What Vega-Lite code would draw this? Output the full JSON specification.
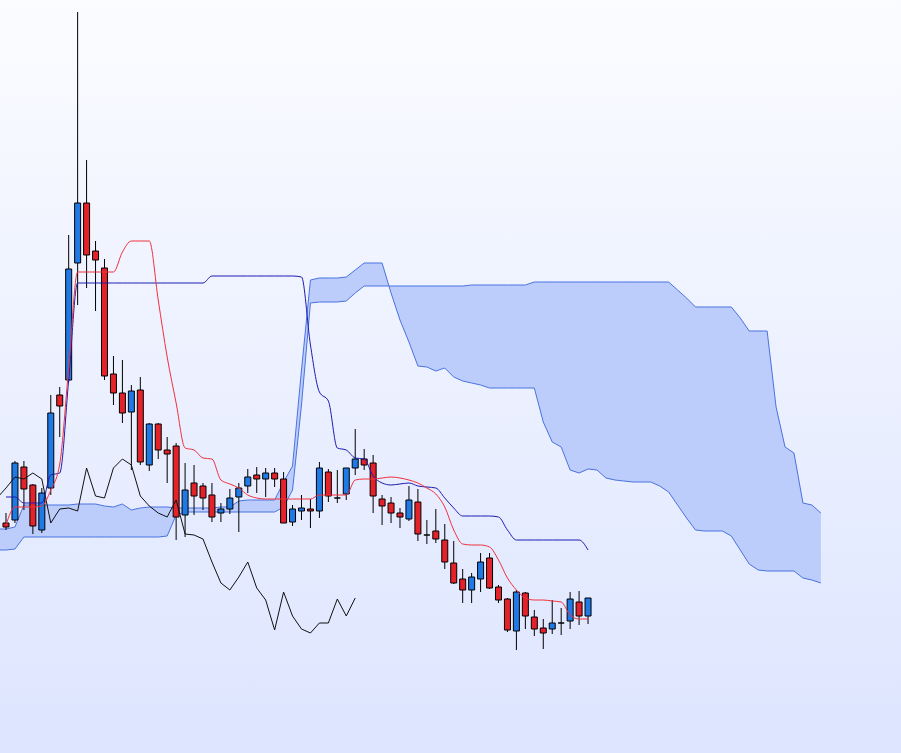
{
  "$schema": "https://vega.github.io/schema/vega-lite/v6.json",
  "width": 901,
  "height": 753,
  "padding": 0,
  "autosize": {"type": "fit", "contains": "padding"},
  "config": {"view": {"stroke": null}},
  "datasets": {
    "candles": [
      {"i":0,"o":230,"h":240,"l":223,"c":226},
      {"i":1,"o":233,"h":292,"l":230,"c":290},
      {"i":2,"o":286,"h":292,"l":243,"c":264},
      {"i":3,"o":268,"h":269,"l":219,"c":227},
      {"i":4,"o":223,"h":265,"l":220,"c":260},
      {"i":5,"o":265,"h":358,"l":258,"c":340},
      {"i":6,"o":358,"h":366,"l":316,"c":347},
      {"i":7,"o":373,"h":518,"l":371,"c":484},
      {"i":8,"o":490,"h":741,"l":448,"c":550},
      {"i":9,"o":550,"h":593,"l":465,"c":498},
      {"i":10,"o":502,"h":512,"l":442,"c":493},
      {"i":11,"o":485,"h":494,"l":373,"c":377},
      {"i":12,"o":379,"h":397,"l":348,"c":360},
      {"i":13,"o":360,"h":393,"l":330,"c":340},
      {"i":14,"o":341,"h":368,"l":283,"c":362},
      {"i":15,"o":363,"h":376,"l":288,"c":291},
      {"i":16,"o":288,"h":330,"l":282,"c":329},
      {"i":17,"o":329,"h":330,"l":294,"c":303},
      {"i":18,"o":303,"h":316,"l":270,"c":299},
      {"i":19,"o":307,"h":310,"l":213,"c":236},
      {"i":20,"o":238,"h":290,"l":216,"c":263},
      {"i":21,"o":270,"h":288,"l":238,"c":257},
      {"i":22,"o":267,"h":270,"l":243,"c":255},
      {"i":23,"o":258,"h":270,"l":231,"c":236},
      {"i":24,"o":240,"h":250,"l":231,"c":244},
      {"i":25,"o":244,"h":264,"l":239,"c":255},
      {"i":26,"o":256,"h":270,"l":221,"c":265},
      {"i":27,"o":267,"h":284,"l":260,"c":276},
      {"i":28,"o":278,"h":286,"l":260,"c":274},
      {"i":29,"o":274,"h":285,"l":256,"c":280},
      {"i":30,"o":280,"h":285,"l":266,"c":274},
      {"i":31,"o":274,"h":281,"l":230,"c":230},
      {"i":32,"o":231,"h":248,"l":227,"c":244},
      {"i":33,"o":242,"h":258,"l":233,"c":245},
      {"i":34,"o":244,"h":254,"l":225,"c":242},
      {"i":35,"o":242,"h":291,"l":235,"c":285},
      {"i":36,"o":281,"h":284,"l":251,"c":257},
      {"i":37,"o":255,"h":283,"l":250,"c":255},
      {"i":38,"o":259,"h":285,"l":253,"c":285},
      {"i":39,"o":285,"h":324,"l":278,"c":294},
      {"i":40,"o":294,"h":304,"l":283,"c":288},
      {"i":41,"o":290,"h":298,"l":240,"c":257},
      {"i":42,"o":254,"h":258,"l":228,"c":247},
      {"i":43,"o":250,"h":256,"l":230,"c":240},
      {"i":44,"o":240,"h":245,"l":225,"c":236},
      {"i":45,"o":234,"h":267,"l":232,"c":253},
      {"i":46,"o":251,"h":264,"l":212,"c":219},
      {"i":47,"o":218,"h":233,"l":209,"c":218},
      {"i":48,"o":222,"h":244,"l":210,"c":214},
      {"i":49,"o":213,"h":229,"l":184,"c":191},
      {"i":50,"o":190,"h":212,"l":169,"c":170},
      {"i":51,"o":174,"h":184,"l":150,"c":163},
      {"i":52,"o":163,"h":180,"l":150,"c":176},
      {"i":53,"o":174,"h":200,"l":161,"c":191},
      {"i":54,"o":195,"h":200,"l":164,"c":165},
      {"i":55,"o":166,"h":168,"l":150,"c":153},
      {"i":56,"o":154,"h":155,"l":121,"c":123},
      {"i":57,"o":122,"h":163,"l":103,"c":161},
      {"i":58,"o":160,"h":161,"l":124,"c":137},
      {"i":59,"o":136,"h":143,"l":117,"c":124},
      {"i":60,"o":125,"h":134,"l":104,"c":120},
      {"i":61,"o":124,"h":153,"l":119,"c":130},
      {"i":62,"o":130,"h":145,"l":118,"c":130},
      {"i":63,"o":132,"h":161,"l":124,"c":154},
      {"i":64,"o":151,"h":162,"l":128,"c":137},
      {"i":65,"o":137,"h":155,"l":129,"c":155}
    ],
    "ind": [
      {"i":0,"tenkan":228,"kijun":256},
      {"i":1,"tenkan":246,"kijun":256},
      {"i":2,"tenkan":246,"kijun":250},
      {"i":3,"tenkan":246,"kijun":250},
      {"i":4,"tenkan":247,"kijun":250},
      {"i":5,"tenkan":263,"kijun":278},
      {"i":6,"tenkan":289,"kijun":280},
      {"i":7,"tenkan":385,"kijun":373},
      {"i":8,"tenkan":481,"kijun":470},
      {"i":9,"tenkan":481,"kijun":470},
      {"i":10,"tenkan":481,"kijun":470},
      {"i":11,"tenkan":481,"kijun":470},
      {"i":12,"tenkan":481,"kijun":470},
      {"i":13,"tenkan":501,"kijun":470},
      {"i":14,"tenkan":512,"kijun":470},
      {"i":15,"tenkan":512,"kijun":470},
      {"i":16,"tenkan":512,"kijun":470},
      {"i":17,"tenkan":453,"kijun":470},
      {"i":18,"tenkan":396,"kijun":470},
      {"i":19,"tenkan":350,"kijun":470},
      {"i":20,"tenkan":305,"kijun":470},
      {"i":21,"tenkan":303,"kijun":470},
      {"i":22,"tenkan":295,"kijun":470},
      {"i":23,"tenkan":294,"kijun":477},
      {"i":24,"tenkan":273,"kijun":477},
      {"i":25,"tenkan":269,"kijun":477},
      {"i":26,"tenkan":265,"kijun":477},
      {"i":27,"tenkan":258,"kijun":477},
      {"i":28,"tenkan":255,"kijun":477},
      {"i":29,"tenkan":254,"kijun":477},
      {"i":30,"tenkan":254,"kijun":477},
      {"i":31,"tenkan":254,"kijun":477},
      {"i":32,"tenkan":254,"kijun":477},
      {"i":33,"tenkan":254,"kijun":476},
      {"i":34,"tenkan":254,"kijun":408},
      {"i":35,"tenkan":258,"kijun":361},
      {"i":36,"tenkan":258,"kijun":352},
      {"i":37,"tenkan":258,"kijun":305},
      {"i":38,"tenkan":258,"kijun":303},
      {"i":39,"tenkan":273,"kijun":295},
      {"i":40,"tenkan":274,"kijun":294},
      {"i":41,"tenkan":274,"kijun":277},
      {"i":42,"tenkan":275,"kijun":270},
      {"i":43,"tenkan":276,"kijun":268},
      {"i":44,"tenkan":275,"kijun":269},
      {"i":45,"tenkan":273,"kijun":270},
      {"i":46,"tenkan":270,"kijun":267},
      {"i":47,"tenkan":265,"kijun":266},
      {"i":48,"tenkan":259,"kijun":265},
      {"i":49,"tenkan":246,"kijun":255},
      {"i":50,"tenkan":223,"kijun":245},
      {"i":51,"tenkan":209,"kijun":237},
      {"i":52,"tenkan":208,"kijun":237},
      {"i":53,"tenkan":208,"kijun":237},
      {"i":54,"tenkan":206,"kijun":237},
      {"i":55,"tenkan":193,"kijun":236},
      {"i":56,"tenkan":175,"kijun":223},
      {"i":57,"tenkan":163,"kijun":213},
      {"i":58,"tenkan":155,"kijun":213},
      {"i":59,"tenkan":153,"kijun":213},
      {"i":60,"tenkan":153,"kijun":213},
      {"i":61,"tenkan":152,"kijun":213},
      {"i":62,"tenkan":151,"kijun":213},
      {"i":63,"tenkan":138,"kijun":213},
      {"i":64,"tenkan":134,"kijun":213},
      {"i":65,"tenkan":134,"kijun":203}
    ],
    "chikou": [
      {"i":-1,"v":255},{"i":0,"v":265},{"i":1,"v":276},{"i":2,"v":274},{"i":3,"v":280},
      {"i":4,"v":274},{"i":5,"v":230},{"i":6,"v":244},{"i":7,"v":245},{"i":8,"v":242},
      {"i":9,"v":285},{"i":10,"v":257},{"i":11,"v":255},{"i":12,"v":285},{"i":13,"v":294},
      {"i":14,"v":288},{"i":15,"v":257},{"i":16,"v":247},{"i":17,"v":240},{"i":18,"v":236},
      {"i":19,"v":253},{"i":20,"v":219},{"i":21,"v":218},{"i":22,"v":214},{"i":23,"v":191},
      {"i":24,"v":170},{"i":25,"v":163},{"i":26,"v":176},{"i":27,"v":191},{"i":28,"v":165},
      {"i":29,"v":153},{"i":30,"v":123},{"i":31,"v":161},{"i":32,"v":137},{"i":33,"v":124},
      {"i":34,"v":120},{"i":35,"v":130},{"i":36,"v":130},{"i":37,"v":154},{"i":38,"v":137},
      {"i":39,"v":155}
    ],
    "cloud": [
      {"i":-1,"a":224,"b":203},{"i":0,"a":224,"b":203},{"i":1,"a":226,"b":204},
      {"i":2,"a":248,"b":216},{"i":3,"a":248,"b":216},{"i":4,"a":248,"b":216},
      {"i":5,"a":248,"b":216},{"i":6,"a":248,"b":216},{"i":7,"a":248,"b":216},
      {"i":8,"a":249,"b":216},{"i":9,"a":249,"b":216},{"i":10,"a":249,"b":216},
      {"i":11,"a":247,"b":216},{"i":12,"a":246,"b":216},{"i":13,"a":249,"b":216},
      {"i":14,"a":243,"b":216},{"i":15,"a":245,"b":216},{"i":16,"a":246,"b":216},
      {"i":17,"a":246,"b":216},{"i":18,"a":246,"b":217},{"i":19,"a":245,"b":238},
      {"i":20,"a":245,"b":241},{"i":21,"a":245,"b":241},{"i":22,"a":245,"b":241},
      {"i":23,"a":245,"b":241},{"i":24,"a":246,"b":241},{"i":25,"a":246,"b":241},
      {"i":26,"a":252,"b":241},{"i":27,"a":253,"b":241},{"i":28,"a":253,"b":241},
      {"i":29,"a":253,"b":241},{"i":30,"a":253,"b":241},{"i":31,"a":271,"b":246},
      {"i":32,"a":287,"b":263},{"i":33,"a":383,"b":348},{"i":34,"a":473,"b":450},
      {"i":35,"a":475,"b":451},{"i":36,"a":475,"b":451},{"i":37,"a":475,"b":451},
      {"i":38,"a":476,"b":452},{"i":39,"a":483,"b":460},{"i":40,"a":490,"b":467},
      {"i":41,"a":490,"b":467},{"i":42,"a":490,"b":467},{"i":43,"a":460,"b":467},
      {"i":44,"a":433,"b":467},{"i":45,"a":411,"b":467},{"i":46,"a":387,"b":467},
      {"i":47,"a":386,"b":467},{"i":48,"a":382,"b":467},{"i":49,"a":385,"b":467},
      {"i":50,"a":376,"b":467},{"i":51,"a":372,"b":467},{"i":52,"a":370,"b":468},
      {"i":53,"a":368,"b":468},{"i":54,"a":365,"b":468},{"i":55,"a":365,"b":468},
      {"i":56,"a":365,"b":468},{"i":57,"a":365,"b":468},{"i":58,"a":365,"b":468},
      {"i":59,"a":365,"b":471},{"i":60,"a":331,"b":471},{"i":61,"a":311,"b":471},
      {"i":62,"a":306,"b":471},{"i":63,"a":283,"b":471},{"i":64,"a":280,"b":471},
      {"i":65,"a":284,"b":471},{"i":66,"a":283,"b":471},{"i":67,"a":275,"b":471},
      {"i":68,"a":273,"b":471},{"i":69,"a":272,"b":471},{"i":70,"a":271,"b":471},
      {"i":71,"a":271,"b":471},{"i":72,"a":271,"b":471},{"i":73,"a":267,"b":471},
      {"i":74,"a":261,"b":471},{"i":75,"a":248,"b":463},{"i":76,"a":235,"b":455},
      {"i":77,"a":223,"b":446},{"i":78,"a":222,"b":446},{"i":79,"a":222,"b":446},
      {"i":80,"a":222,"b":446},{"i":81,"a":217,"b":446},{"i":82,"a":203,"b":435},
      {"i":83,"a":189,"b":422},{"i":84,"a":183,"b":422},{"i":85,"a":182,"b":422},
      {"i":86,"a":182,"b":346},{"i":87,"a":182,"b":306},{"i":88,"a":182,"b":300},
      {"i":89,"a":175,"b":250},{"i":90,"a":173,"b":248},{"i":91,"a":170,"b":240}
    ]
  },
  "layer": [
    {
      "data": {"values": [{}]},
      "mark": {
        "type": "rect",
        "fill": {"gradient": "linear", "x1": 0, "y1": 0, "x2": 0, "y2": 1,
          "stops": [{"offset": 0, "color": "#fbfcff"}, {"offset": 1, "color": "#dde5ff"}]}
      },
      "encoding": {
        "x": {"value": 0}, "x2": {"value": "width"},
        "y": {"value": 0}, "y2": {"value": "height"}
      }
    },
    {
      "data": {"name": "cloud"},
      "mark": {"type": "area", "color": "#bccdfb", "opacity": 1, "clip": true},
      "encoding": {
        "x": {"field": "i", "type": "quantitative", "scale": {"domain": [-0.67, 99.95], "nice": false, "zero": false, "padding": 0}, "axis": null},
        "y": {"field": "a", "type": "quantitative", "scale": {"domain": [0, 753], "nice": false, "zero": false, "padding": 0}, "axis": null},
        "y2": {"field": "b"}
      }
    },
    {
      "data": {"name": "cloud"},
      "mark": {"type": "line", "color": "#4a72e0", "strokeWidth": 1, "clip": true},
      "encoding": {
        "x": {"field": "i", "type": "quantitative", "axis": null},
        "y": {"field": "a", "type": "quantitative", "axis": null}
      }
    },
    {
      "data": {"name": "cloud"},
      "mark": {"type": "line", "color": "#4a72e0", "strokeWidth": 1, "clip": true},
      "encoding": {
        "x": {"field": "i", "type": "quantitative", "axis": null},
        "y": {"field": "b", "type": "quantitative", "axis": null}
      }
    },
    {
      "data": {"name": "candles"},
      "mark": {"type": "rule", "color": "#000000", "strokeWidth": 1, "clip": true},
      "encoding": {
        "x": {"field": "i", "type": "quantitative", "axis": null},
        "y": {"field": "l", "type": "quantitative", "axis": null},
        "y2": {"field": "h"}
      }
    },
    {
      "data": {"name": "candles"},
      "mark": {"type": "bar", "size": 6, "stroke": "#000000", "strokeWidth": 1, "clip": true},
      "encoding": {
        "x": {"field": "i", "type": "quantitative", "axis": null},
        "y": {"field": "o", "type": "quantitative", "axis": null},
        "y2": {"field": "c"},
        "fill": {"condition": {"test": "datum.c >= datum.o", "value": "#207ae6"}, "value": "#e4222a"}
      }
    },
    {
      "data": {"name": "chikou"},
      "mark": {"type": "line", "color": "#111111", "strokeWidth": 1, "clip": true},
      "encoding": {
        "x": {"field": "i", "type": "quantitative", "axis": null},
        "y": {"field": "v", "type": "quantitative", "axis": null}
      }
    },
    {
      "data": {"name": "ind"},
      "mark": {"type": "line", "color": "#1c1cb0", "strokeWidth": 1, "interpolate": "monotone", "clip": true},
      "encoding": {
        "x": {"field": "i", "type": "quantitative", "axis": null},
        "y": {"field": "kijun", "type": "quantitative", "axis": null}
      }
    },
    {
      "data": {"name": "ind"},
      "mark": {"type": "line", "color": "#f2303a", "strokeWidth": 1, "interpolate": "monotone", "clip": true},
      "encoding": {
        "x": {"field": "i", "type": "quantitative", "axis": null},
        "y": {"field": "tenkan", "type": "quantitative", "axis": null}
      }
    }
  ]
}
